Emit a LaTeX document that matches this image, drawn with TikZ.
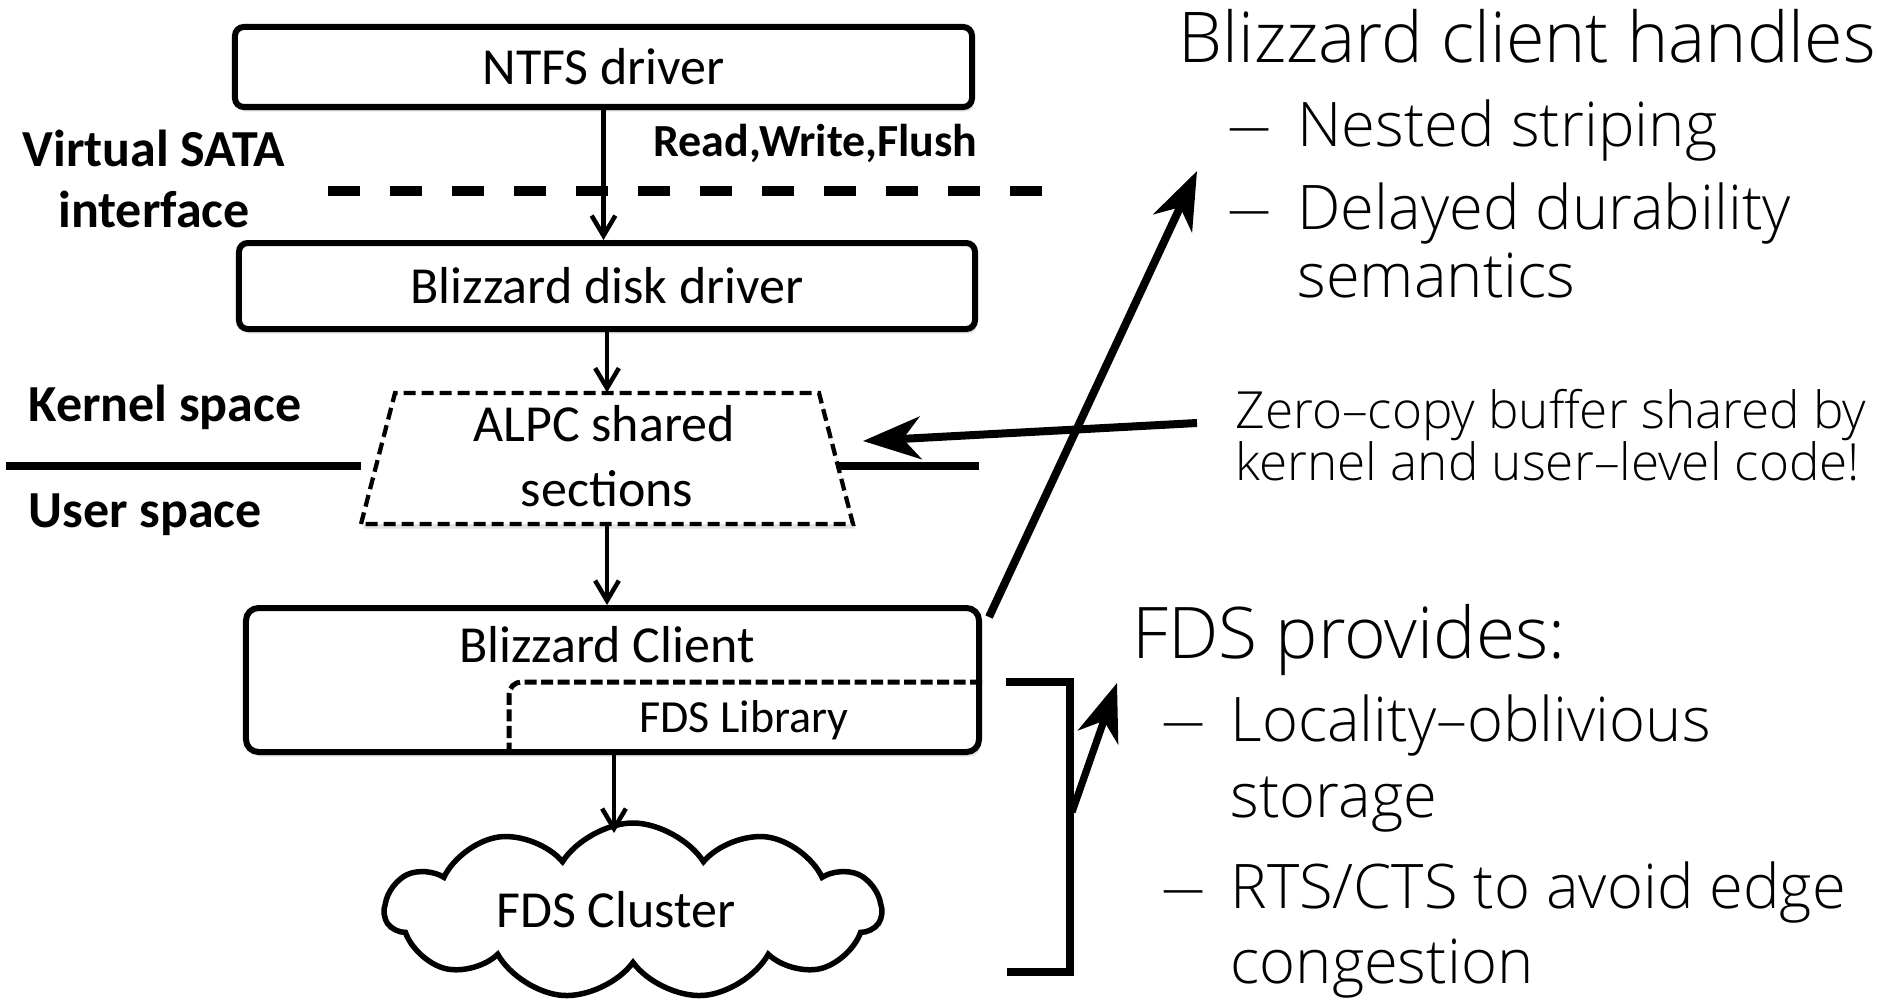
\documentclass[tikz,border=0pt]{standalone}
\usepackage{fontspec}
\setmainfont{Carlito}
\newfontfamily\notefont{Open Sans Light}
\usetikzlibrary{arrows.meta,shapes.symbols,shadows}

\tikzset{
  diag/.style={font=\fontsize{20.8}{25}\selectfont},
  sidelabel/.style={font=\fontsize{20.8}{25}\selectfont\bfseries, inner sep=0pt},
  softshadow/.style={drop shadow={shadow xshift=0.8pt, shadow yshift=-1.8pt, opacity=0.22}},
  box/.style={draw, line width=2.4pt, fill=white, rounded corners=3.5pt, inner sep=0pt, diag, softshadow},
  flow/.style={line width=1.8pt, -{Straight Barb[length=8pt, width=9.5pt]}},
  pointer/.style={line width=3.2pt, -{Stealth[length=23pt, width=17pt, inset=7pt]}},
  heading/.style={font=\notefont\fontsize{28}{32}\selectfont, anchor=base west, inner sep=0pt},
  item/.style={font=\notefont\fontsize{24.6}{29}\selectfont, anchor=base west, inner sep=0pt},
  remark/.style={font=\notefont\fontsize{20.5}{24}\selectfont, anchor=base west, inner sep=0pt},
  bullet/.style={item},
}

\begin{document}
\begin{tikzpicture}[x=0.4pt, y=-0.4pt]
  % canvas
  \fill[white] (0,0) rectangle (1877,1006);
  \useasboundingbox (0,0) rectangle (1877,1006);

  % ---- stack of components ----
  \node[box, minimum width=294.8pt, minimum height=32pt] (ntfs) at (603.5,67) {NTFS driver};
  \node[box, minimum width=294.4pt, minimum height=34.4pt] (disk) at (607,286) {Blizzard disk driver};

  % virtual SATA interface boundary
  \coordinate (sataL) at (328,191);
  \coordinate (sataR) at (1046,191);
  \draw[line width=4pt, dash pattern=on 12.6pt off 12.2pt] (sataL) -- (sataR);
  \node[sidelabel, anchor=base] (sata1) at (154,166) {Virtual SATA};
  \node[sidelabel, anchor=base] (sata2) at (154,227) {interface};
  \node[font=\fontsize{18.4}{22}\selectfont\bfseries, inner sep=0pt, anchor=base west] (rwf) at (653,157) {Read,Write,Flush};

  % kernel / user boundary
  \coordinate (kuL) at (6,466);
  \coordinate (kuA) at (361,466);
  \coordinate (kuB) at (836,466);
  \coordinate (kuR) at (979,466);
  \draw[line width=3.4pt] (kuL) -- (kuA);
  \draw[line width=3.4pt] (kuB) -- (kuR);
  \node[sidelabel, anchor=base west] (kernel) at (28,421) {Kernel space};
  \node[sidelabel, anchor=base west] (user) at (28,527) {User space};

  % shared sections (dashed trapezoid)
  \coordinate (alpcTL) at (395,393);
  \coordinate (alpcTR) at (819,393);
  \coordinate (alpcBR) at (853,524);
  \coordinate (alpcBL) at (361,524);
  \draw[line width=1.7pt, dash pattern=on 4.8pt off 2.4pt, fill=white, softshadow]
    (alpcBL) -- (alpcTL) -- (alpcTR) -- (alpcBR) -- cycle;
  \node[inner sep=0pt, minimum width=170pt, minimum height=52.4pt] (alpc) at (607,458.5) {};
  \node[diag, inner sep=0pt, anchor=base] (alpc1) at (604,441) {ALPC shared};
  \node[diag, inner sep=0pt, anchor=base] (alpc2) at (607,506) {sections};

  % client with embedded library
  \node[box, rounded corners=5pt, minimum width=293.2pt, minimum height=57.6pt] (client) at (612.5,680) {};
  \node[diag, inner sep=0pt, anchor=base] (clientlbl) at (607,662) {Blizzard Client};
  \draw[line width=2pt, dash pattern=on 4.8pt off 1.8pt, rounded corners=5pt]
    (client.east |- 0,682) -- (509,682) -- (509,751);
  \node[font=\fontsize{18.4}{22}\selectfont, inner sep=0pt, anchor=base] (lib) at (744,732) {FDS Library};

  % storage cluster
  \node[cloud, draw, line width=2.2pt, cloud puffs=11, cloud puff arc=115, cloud ignores aspect,
        minimum width=198.4pt, minimum height=70.4pt, inner sep=0pt] (cluster) at (633,911) {};
  \node[diag, inner sep=0pt, anchor=base] (clusterlbl) at (616,927) {FDS Cluster};

  % request path
  \draw[flow] (ntfs.south) -- (ntfs.south |- disk.north);
  \draw[flow] (disk.south) -- (disk.south |- alpc.north);
  \draw[flow] (alpc.south) -- (alpc.south |- client.north);
  \coordinate (cloudtop) at (614,833);
  \draw[flow] (client.south -| cloudtop) -- (cloudtop);

  % bracket around library and cluster
  \coordinate (brA) at (1006,682);
  \coordinate (brB) at (1070,682);
  \coordinate (brC) at (1070,972);
  \coordinate (brD) at (1007,972);
  \draw[line width=3.4pt] (brA) -- (brB) -- (brC) -- (brD);

  % ---- notes ----
  \node[heading] (hClient) at (1178,63) {Blizzard client handles};
  \node[bullet] (d1) at (1226,147) {\scalebox{1.5}[1]{–}};
  \node[item] (i1) at (1297,147) {Nested striping};
  \node[bullet] (d2) at (1226,229) {\scalebox{1.5}[1]{–}};
  \node[item] (i2) at (1297,229) {Delayed durability};
  \node[item] (i2b) at (1297,297) {semantics};

  \node[remark] (zc1) at (1235,428) {Zero–copy buffer shared by};
  \node[remark] (zc2) at (1235,480) {kernel and user–level code!};

  \node[heading, font=\notefont\fontsize{28.5}{32}\selectfont] (hFds) at (1132,658) {FDS provides:};
  \node[bullet] (d3) at (1160,741) {\scalebox{1.5}[1]{–}};
  \node[item] (i3) at (1230,741) {Locality–oblivious};
  \node[item] (i3b) at (1230,817) {storage};
  \node[bullet] (d4) at (1160,908) {\scalebox{1.5}[1]{–}};
  \node[item] (i4) at (1230,908) {RTS/CTS to avoid edge};
  \node[item] (i4b) at (1230,983) {congestion};

  % pointers from notes
  \coordinate (zcFrom) at (1197,423);
  \coordinate (zcTo) at (863,441);
  \draw[pointer] (zcFrom) -- (zcTo);

  \coordinate (upFrom) at (989,617);
  \coordinate (upTo) at (1197,171);
  \draw[pointer] (upFrom) -- (upTo);

  \coordinate (brFrom) at (1072,812);
  \coordinate (brTo) at (1117,683);
  \draw[pointer, line width=2.9pt] (brFrom) -- (brTo);
\end{tikzpicture}
\end{document}
